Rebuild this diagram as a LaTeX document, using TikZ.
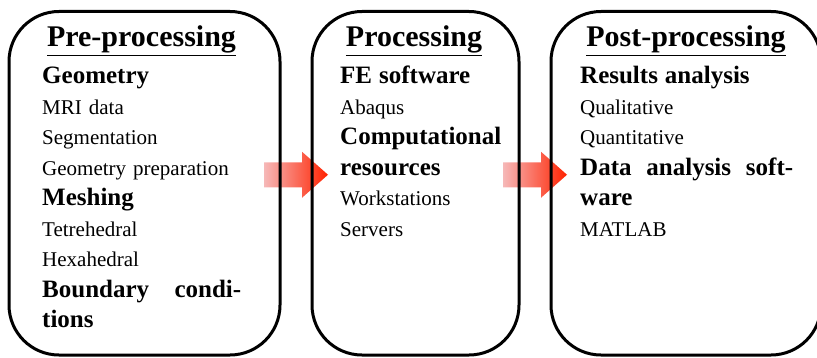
\documentclass[tikz,border=0pt]{standalone}
\usepackage{fontspec}
\setmainfont{Liberation Serif}
\usetikzlibrary{positioning, backgrounds}

\definecolor{arrowpale}{RGB}{246,184,184}
\definecolor{arrowred}{RGB}{255,34,0}

\tikzset{
 panel/.style={draw, line width=3pt, rounded corners=50pt, inner sep=0pt, outer sep=0pt, minimum height=343.5pt},
 head/.style={anchor=base, inner sep=0pt, font=\fontsize{30}{36}\selectfont\bfseries},
 items/.style={anchor=base west, inner sep=0pt, align=left, font=\fontsize{21}{30.5}\selectfont},
 fat/.style={left color=arrowpale, right color=arrowred}
}

\newcommand{\itemhead}[1]{{\fontsize{25}{30.5}\selectfont\bfseries #1}}
% a justified line: words pushed to both ends
\newcommand{\spreadline}[2]{\makebox[#1]{#2}}

% fat shaded arrow from one panel into the next
\newcommand{\fatarrow}[2]{%
 \coordinate (tail) at ([xshift=-16pt,yshift=8.5pt]#1.east);
 \coordinate (tip) at ([xshift=16pt,yshift=8.5pt]#2.west);
 \shade[fat] ([yshift=12.5pt]tail) -- ([shift={(-26pt,12.5pt)}]tip) -- ([shift={(-26pt,23pt)}]tip) -- (tip)
  -- ([shift={(-26pt,-23pt)}]tip) -- ([shift={(-26pt,-12.5pt)}]tip) -- ([yshift=-12.5pt]tail) -- cycle;
}

\begin{document}
\begin{tikzpicture}[x=1pt, y=1pt]
\path[use as bounding box, clip] (0,0) rectangle (817,357);

\node[panel, minimum width=271pt] (pre) at (144.5,173.75) {};
\node[panel, minimum width=207pt, right=32pt of pre] (proc) {};
\node[panel, minimum width=270pt, right=32pt of proc] (post) {};

\begin{pgfonlayer}{background}
 \fatarrow{pre}{proc}
 \fatarrow{proc}{post}
\end{pgfonlayer}

\node[head] (prehead) at ([xshift=-3pt,yshift=-35.5pt]pre.north) {\underline{Pre-processing}};
\node[head] (prochead) at ([xshift=-1.5pt,yshift=-35.5pt]proc.north) {\underline{Processing}};
\node[head] (posthead) at ([yshift=-35.5pt]post.north) {\underline{Post-processing}};

\node[items, text width=201pt] (prelist) at ([xshift=33pt,yshift=-72.5pt]pre.north west) {%
 \itemhead{Geometry}\\ MRI data\\ Segmentation\\ Geometry preparation\\
 \itemhead{Meshing}\\ Tetrehedral\\ Hexahedral\\
 \itemhead{\spreadline{199pt}{Boundary\hfill condi-}}\\ \itemhead{tions}};

\node[items, text width=165pt] (proclist) at ([xshift=28pt,yshift=-72.5pt]proc.north west) {%
 \itemhead{FE software}\\ Abaqus\\
 \itemhead{Computational}\\ \itemhead{resources}\\ Workstations\\ Servers};

\node[items, text width=213pt] (postlist) at ([xshift=29pt,yshift=-72.5pt]post.north west) {%
 \itemhead{Results analysis}\\ Qualitative\\ Quantitative\\
 \itemhead{\spreadline{213pt}{Data\hfill analysis\hfill soft-}}\\ \itemhead{ware}\\ MATLAB};

\end{tikzpicture}
\end{document}
